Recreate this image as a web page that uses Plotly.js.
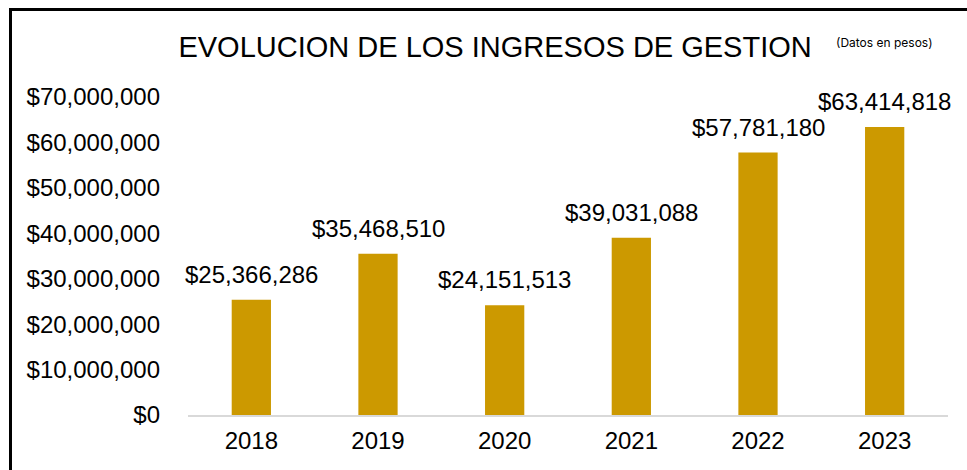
<!DOCTYPE html>
<html>
<head>
<meta charset="utf-8">
<script src="https://cdn.plot.ly/plotly-3.0.1.min.js"></script>
<style>
html,body{margin:0;padding:0;background:#fff;}
#chart{position:absolute;left:0;top:0;width:967px;height:470px;}
#frame{position:absolute;left:9px;top:8px;width:1000px;height:500px;border-left:3px solid #000;border-top:3px solid #000;pointer-events:none;}
</style>
</head>
<body>
<div id="chart"></div>
<div id="frame"></div>
<script>
const years = ["2018","2019","2020","2021","2022","2023"];
const ingresos = [25366286, 35468510, 24151513, 39031088, 57781180, 63414818];
const yTicks = [0,10000000,20000000,30000000,40000000,50000000,60000000,70000000];
const yTickText = ["$0","$10,000,000","$20,000,000","$30,000,000","$40,000,000","$50,000,000","$60,000,000","$70,000,000"];
const titleText = "EVOLUCION DE LOS INGRESOS DE GESTION";
const noteText = "(Datos en pesos)";

function fmt(v){return "$" + v.toLocaleString("en-US");}

const font = "Liberation Sans, Arial, sans-serif";

const trace = {
  type: "bar",
  x: years,
  y: ingresos,
  marker: {color: "#CC9900"},
  width: 0.31,
  hoverinfo: "none"
};

const annotations = years.map((yr,i)=>({
  x: i, y: ingresos[i], xref:"x", yref:"y",
  text: fmt(ingresos[i]), showarrow:false,
  yanchor:"bottom", yshift: 10,
  font:{family:font, size:24, color:"#000"}
}));
annotations.push({
  xref:"paper", yref:"paper", x: 0.85, y: 1.17, xanchor:"left", yanchor:"middle",
  text: noteText, showarrow:false,
  font:{family:"Inter, Roboto, sans-serif", size:12, color:"#000"}
});

const layout = {
  width: 967, height: 470,
  margin: {l:188, r:19, t:97, b:55},
  paper_bgcolor:"#fff", plot_bgcolor:"#fff",
  title: {text: titleText, x: 0.512, xref:"container", xanchor:"center", y: 0.9, yanchor:"middle", yref:"container",
          font:{family:font, size:29, color:"#000"}},
  showlegend:false,
  xaxis: {
    type:"category",
    range:[-0.5,5.5],
    showline:true, linecolor:"#d9d9d9", linewidth:1.5,
    showgrid:false, ticks:"",
    tickfont:{family:font, size:24, color:"#000"},
    ticklabelstandoff: 4
  },
  yaxis: {
    range:[0,70000000],
    tickvals:yTicks, ticktext:yTickText,
    showgrid:false, zeroline:false, showline:false, ticks:"",
    tickfont:{family:font, size:24, color:"#000"},
    ticklabelstandoff: 27
  },
  annotations: annotations
};

Plotly.newPlot("chart",[trace],layout,{staticPlot:true});
</script>
</body>
</html>
